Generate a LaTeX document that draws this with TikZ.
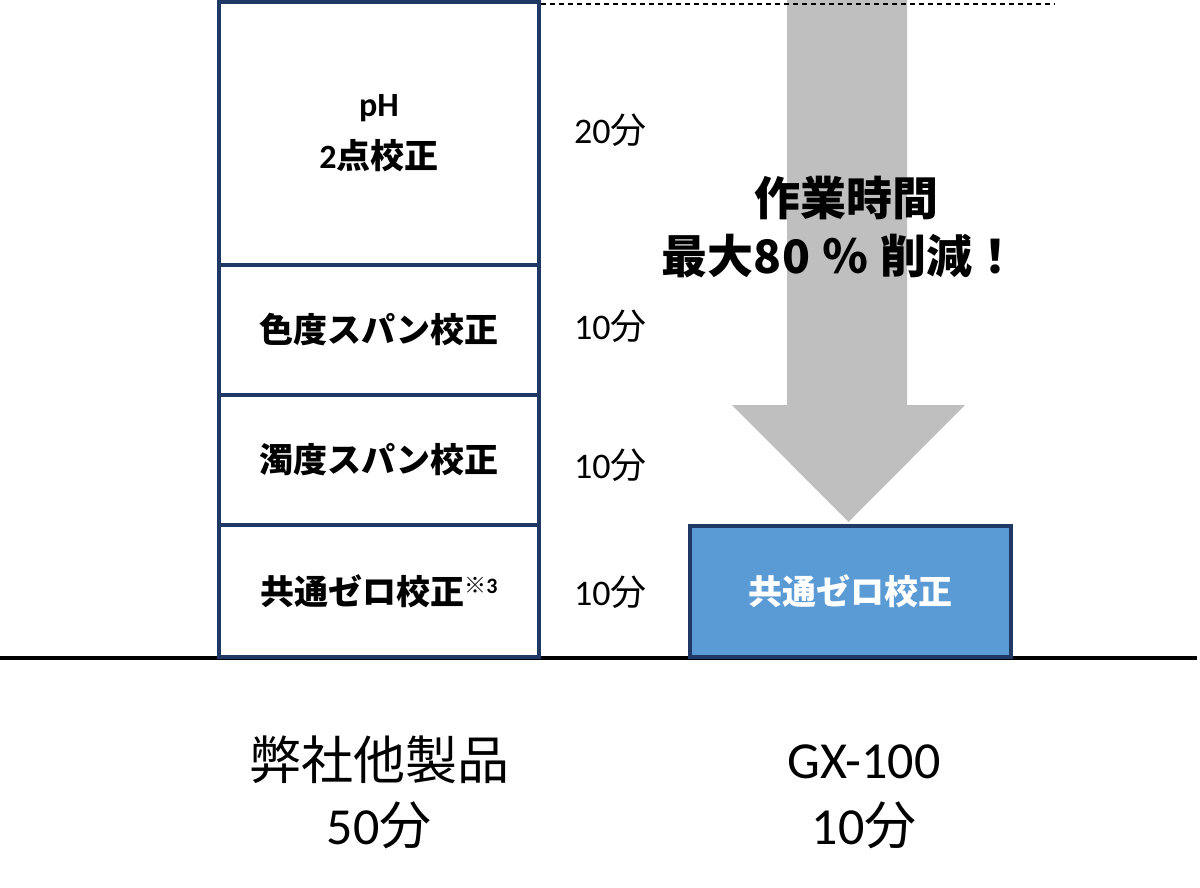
\documentclass[tikz,border=0pt]{standalone}
\usepackage{fontspec}
\setmainfont{Carlito}
\newfontfamily\cjk{Noto Sans CJK JP}
\definecolor{navy}{RGB}{31,56,100}
\definecolor{boxblue}{RGB}{91,155,213}
\definecolor{arrowgray}{RGB}{191,191,191}
\begin{document}
\begin{tikzpicture}[x=1pt,y=-1pt,
  cell/.style={draw=navy,line width=4pt,minimum width=320pt,inner sep=0pt,align=center,
    font=\bfseries\fontsize{34}{52}\selectfont},
  timelbl/.style={anchor=west,inner sep=0pt,font=\fontsize{36}{40}\selectfont},
  bigtxt/.style={inner sep=0pt,font=\bfseries\fontsize{46}{56}\selectfont},
  bottomtxt/.style={inner sep=0pt,font=\fontsize{52}{60}\selectfont}]
\useasboundingbox (0,0) rectangle (1200,887);
% ground line
\coordinate (gl) at (0,658);
\coordinate (gr) at (1197,658);
\draw[line width=4pt] (gl) -- (gr);
% big arrow
\fill[arrowgray] (787,0) -- (907,0) -- (907,405) -- (965,405) -- (848.5,522) -- (732,405) -- (787,405) -- cycle;
% stack of calibration steps
\node[cell,minimum height=263pt] (ph) at (379,133.5) {pH\\2{\cjk 点校正}};
\node[cell,minimum height=130pt] (color) at (379,330) {\cjk 色度スパン校正};
\node[cell,minimum height=130pt] (turb) at (379,460) {\cjk 濁度スパン校正};
\node[cell,minimum height=132pt] (zero) at (379,591) {{\cjk 共通ゼロ校正}\raisebox{11pt}{\fontsize{22}{22}\selectfont{\cjk ※}3}};
% dashed reference line
\coordinate (ds) at (541,4);
\coordinate (de) at (1055,4);
\draw[dashed,dash pattern=on 5pt off 4pt,line width=1.3pt] (ds) -- (de);
% time labels
\node[timelbl] (t1) at (574,130) {20{\cjk 分}};
\node[timelbl] (t2) at (574,326) {10{\cjk 分}};
\node[timelbl] (t3) at (574,465) {10{\cjk 分}};
\node[timelbl] (t4) at (574,592) {10{\cjk 分}};
% arrow text
\node[bigtxt] (a1) at (846,198) {\cjk 作業時間};
\node[bigtxt] (a2) at (840,256) {\cjk 最大8\hspace{1pt}0\hspace{12pt}％\hspace{12pt}削減！};
% GX-100 box
\node[draw=navy,fill=boxblue,line width=4pt,minimum width=321pt,minimum height=131pt,inner sep=0pt,
  text=white,font=\bfseries\fontsize{34}{40}\selectfont] (gx) at (850.5,591.5) {\cjk 共通ゼロ校正};
% bottom labels
\node[bottomtxt] (b1) at (379,760) {\cjk 弊社他製品};
\node[bottomtxt] (b2) at (379,825) {50{\cjk 分}};
\node[bottomtxt] (b3) at (864,762) {GX-100};
\node[bottomtxt] (b4) at (864,825) {10{\cjk 分}};
\end{tikzpicture}
\end{document}
